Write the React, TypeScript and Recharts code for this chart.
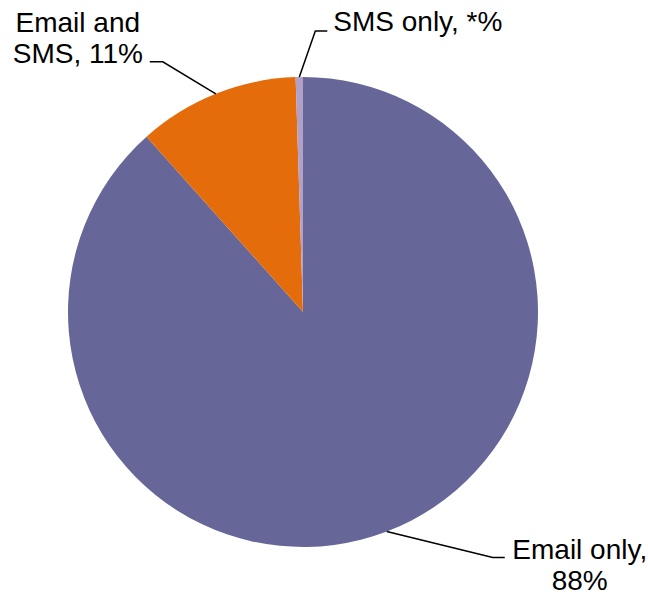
import React from 'react'
import { Cell, Pie, PieChart } from 'recharts';

// slices, clockwise from 12 o'clock
const categories = ['Email only', 'Email and SMS', 'SMS only'];
const shares = [88.4, 11.1, 0.5];
// text shown on the chart (rounded / suppressed values)
const labelLines = [['Email only,', '88%'], ['Email and', 'SMS, 11%'], ['SMS only, *%']];

const COLORS = ['#666699', '#E46C0A', '#B1A0C7'];

const data = categories.map((name, i) => ({ name, value: shares[i] }));

// leader line: elbow offset from the slice edge, then a short horizontal run
const LEADERS = [
    { ex: 106, ey: 26, run: 12, tx: 75, ty: 1, anchor: 'middle' },
    { ex: -53, ey: -32, run: -13, tx: -72, ty: -30, anchor: 'middle' },
    { ex: 16, ey: -46, run: 12, tx: 6, ty: 0, anchor: 'start' },
];
const LINE_HEIGHT = 31;
const RAD = Math.PI / 180;

const renderLabel = (props: any) => {
    const { cx, cy, midAngle, outerRadius, index } = props;
    const sx = cx + outerRadius * Math.cos(-midAngle * RAD);
    const sy = cy + outerRadius * Math.sin(-midAngle * RAD);
    const l = LEADERS[index];
    const mx = sx + l.ex;
    const my = sy + l.ey;
    const endX = mx + l.run;
    return (
        <g key={`lbl-${index}`}>
            <polyline points={`${sx},${sy} ${mx},${my} ${endX},${my}`} fill='none' stroke='#000' strokeWidth={1.5} />
            <text x={endX + l.tx} y={my + l.ty} textAnchor={l.anchor} fontSize={28} fill='#000'
                fontFamily="Arial, 'Liberation Sans', sans-serif">
                {labelLines[index].map((t, i) => (
                    <tspan key={i} x={endX + l.tx} dy={i === 0 ? 0 : LINE_HEIGHT}>{t}</tspan>
                ))}
            </text>
        </g>
    );
};

const App = () => {
    return (
        <div style={{ position: 'absolute', left: 0, top: 0, width: 648, height: 594, background: '#fff' }}>
            <PieChart width={648} height={594} margin={{ top: 0, right: 0, bottom: 0, left: 0 }}>
                <Pie
                    data={data}
                    dataKey='value'
                    nameKey='name'
                    cx={303}
                    cy={312}
                    outerRadius={235}
                    startAngle={90}
                    endAngle={-270}
                    stroke='none'
                    label={renderLabel}
                    labelLine={false}
                    isAnimationActive={false}
                >
                    {data.map((entry, index) => (
                        <Cell key={`cell-${index}`} fill={COLORS[index % COLORS.length]} />
                    ))}
                </Pie>
            </PieChart>
        </div>
    )
}

export default App
